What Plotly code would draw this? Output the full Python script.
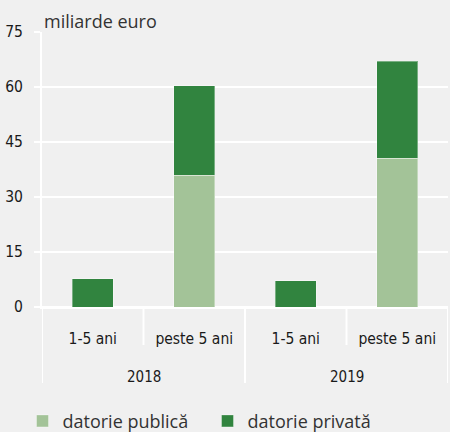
import plotly.graph_objects as go

# Maturity buckets grouped by year
years = ["2018", "2018", "2019", "2019"]
maturities = ["1-5 ani", "peste 5 ani", "1-5 ani", "peste 5 ani"]

# Debt stocks, billion euro
public_debt = [0.0, 36.0, 0.0, 40.6]
private_debt = [7.7, 24.3, 7.2, 26.4]

y_ticks = [0, 15, 30, 45, 60, 75]

LIGHT_GREEN = "#a3c398"
DARK_GREEN = "#31843f"
BG = "#f0f0f0"
TEXT = "#1a1a1a"
NARROW = "DejaVu Sans Condensed, Liberation Sans Narrow, sans-serif"
REGULAR = "Open Sans, Noto Sans, sans-serif"

positions = list(range(len(maturities)))

fig = go.Figure()
fig.add_trace(go.Bar(
    x=positions, y=public_debt, name="datorie publică", width=0.4,
    marker=dict(color=LIGHT_GREEN, line=dict(color="rgba(255,255,255,0.35)", width=1)),
))
fig.add_trace(go.Bar(
    x=positions, y=private_debt, name="datorie privată", width=0.4,
    marker=dict(color=DARK_GREEN, line=dict(color="rgba(255,255,255,0.35)", width=1)),
))

# Year labels centred under each pair of maturity buckets
year_groups = []
for yr in dict.fromkeys(years):
    idx = [i for i, v in enumerate(years) if v == yr]
    year_groups.append((yr, min(idx), max(idx)))

annotations = [dict(
    text="miliarde euro", xref="paper", yref="paper",
    x=0, y=1, xanchor="left", yanchor="bottom", yshift=-3, showarrow=False,
    font=dict(family=REGULAR, size=18, color="#333333"),
)]
shapes = []
for yr, lo, hi in year_groups:
    annotations.append(dict(
        text=yr, xref="x", yref="paper", x=(lo + hi) / 2, y=0,
        yanchor="middle", yshift=-70, showarrow=False,
        font=dict(family=NARROW, size=15, color=TEXT),
    ))
    # long dividers at the group edges
    for edge in (lo - 0.5, hi + 0.5):
        shapes.append(dict(
            type="line", xref="x", yref="paper", ysizemode="pixel", yanchor=0,
            x0=edge, x1=edge, y0=0, y1=-76, line=dict(color="white", width=2),
        ))
    # short dividers between buckets inside a group
    for k in range(lo, hi):
        shapes.append(dict(
            type="line", xref="x", yref="paper", ysizemode="pixel", yanchor=0,
            x0=k + 0.5, x1=k + 0.5, y0=0, y1=-38, line=dict(color="white", width=2),
        ))

fig.update_layout(
    width=450, height=432,
    barmode="stack",
    paper_bgcolor=BG, plot_bgcolor=BG,
    margin=dict(l=42, r=2, t=32, b=125),
    font=dict(family=NARROW, size=15, color=TEXT),
    showlegend=True,
    legend=dict(
        orientation="h", traceorder="normal",
        xref="container", yref="container",
        x=0.05, y=0.025, xanchor="left", yanchor="middle",
        entrywidth=140, entrywidthmode="pixels",
        font=dict(family=REGULAR, size=18, color="#333333"),
        itemclick=False, bgcolor="rgba(0,0,0,0)",
    ),
    annotations=annotations,
    shapes=shapes,
)

fig.update_yaxes(
    range=[0, 75], tickvals=y_ticks,
    showgrid=True, gridcolor="white", gridwidth=2,
    zeroline=True, zerolinecolor="white", zerolinewidth=2,
    showline=True, linecolor="white", linewidth=2,
    ticks="outside", ticklen=6, tickcolor="white", tickwidth=2,
    ticklabelstandoff=8,
    tickfont=dict(family=NARROW, size=15.5, color=TEXT),
)
fig.update_xaxes(
    range=[-0.5, len(maturities) - 0.5],
    tickvals=positions, ticktext=maturities,
    showgrid=False, zeroline=False,
    showline=True, linecolor="white", linewidth=2,
    ticks="", ticklabelstandoff=16,
    tickfont=dict(family=NARROW, size=15.5, color=TEXT),
)

fig.write_html("out.html")
